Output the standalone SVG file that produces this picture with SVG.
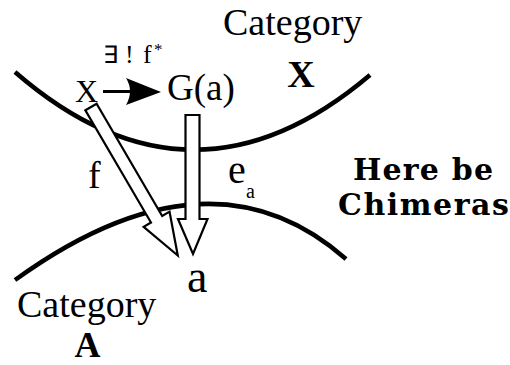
<svg xmlns="http://www.w3.org/2000/svg" width="510" height="365" viewBox="0 0 510 365">
<style>
.curve{fill:none;stroke:#000;stroke-width:4.5}
.hollow{fill:#fff;stroke:#000;stroke-width:2.2;stroke-linejoin:miter}
.t{font-family:"Liberation Serif","Times New Roman",serif;fill:#000}
.b{font-weight:bold}
.goth{font-family:"DejaVu Serif","Liberation Serif",serif;font-weight:bold;fill:#000}
</style>
<rect width="510" height="365" fill="#fff"/>
<g id="categoryX">
<path class="curve" d="M15,72 Q192,226 370,75"/>
<text class="t" x="223" y="35" font-size="38">Category</text>
<text class="t b" x="301" y="87" font-size="38" text-anchor="middle">X</text>
</g>
<g id="categoryA">
<path class="curve" d="M15,280 Q210,139 346,259"/>
<text class="t" x="17" y="317" font-size="38">Category</text>
<text class="t b" x="87.5" y="357" font-size="36" text-anchor="middle">A</text>
</g>
<g id="chimeras">
<text class="goth" x="353" y="180" font-size="30" textLength="140" lengthAdjust="spacing">Here be</text>
<text class="goth" x="338" y="215" font-size="30" textLength="171" lengthAdjust="spacing">Chimeras</text>
</g>
<g id="nodeX"><text class="t" x="75" y="102" font-size="32">X</text></g>
<g id="nodeGa"><text class="t" x="167" y="100" font-size="37">G(a)</text></g>
<g id="nodeA"><text class="t" x="187" y="292" font-size="46">a</text></g>
<g id="connectors">
<g id="fstar">
<line x1="103" y1="91.5" x2="130" y2="91.5" stroke="#000" stroke-width="3"/>
<path d="M161,92 L126,78 Q134,91 126,105 Z" fill="#000"/>
<text class="t" x="103" y="63" font-size="24" font-family="DejaVu Sans,sans-serif">∃</text>
<text class="t" x="125" y="63" font-size="26">!</text>
<text class="t" x="143" y="63" font-size="26">f</text>
<text class="t" x="154" y="55" font-size="17">*</text>
</g>
<g id="f">
<polygon class="hollow" transform="translate(91,107) rotate(-30.3)" points="-6.5,0 6.5,0 6.5,130 15,130 0,172 -15,130 -6.5,130"/>
<text class="t" x="88" y="188" font-size="38">f</text>
</g>
<g id="ea">
<polygon class="hollow" points="185.5,115 199.5,115 199.5,219 207.5,219 193,254 178,219 185.5,219"/>
<text class="t" x="228" y="183" font-size="40">e</text>
<text class="t" x="246" y="198" font-size="20">a</text>
</g>
</g>
</svg>
